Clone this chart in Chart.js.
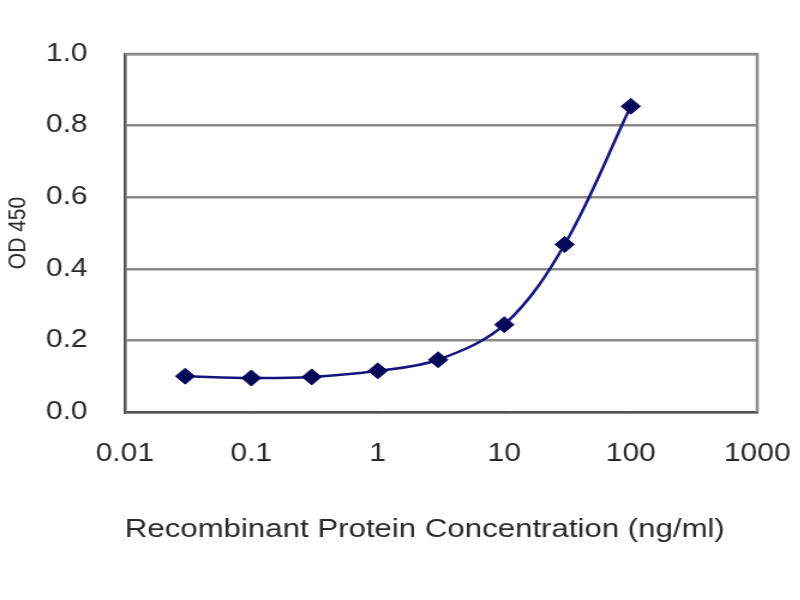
<!DOCTYPE html>
<html>
<head>
<meta charset="utf-8">
<script src="https://cdn.jsdelivr.net/npm/chart.js@4.4.1/dist/chart.umd.min.js"></script>
<style>
  html, body { margin: 0; padding: 0; background: #fff; overflow: hidden; }
  /* the reference picture is stretched sideways, so the whole chart is too */
  #wrap { width: 667px; height: 600px; transform: scaleX(1.2); transform-origin: 0 0; }
  #chart { display: block; }
</style>
</head>
<body>
<div id="wrap"><canvas id="chart"></canvas></div>
<script>
// Concentration (ng/ml) and measured OD 450
const concentrations = [0.03, 0.1, 0.3, 1, 3, 10, 30, 100];
const odValues = [0.100, 0.095, 0.098, 0.115, 0.146, 0.244, 0.468, 0.854];
const xTicks = [0.01, 0.1, 1, 10, 100, 1000];
const yTicks = [0, 0.2, 0.4, 0.6, 0.8, 1.0];

const points = concentrations.map((c, i) => ({ x: c, y: odValues[i] }));

// Grey frame on the top and right of the plot area
const frame = {
    id: 'frame',
    afterDraw(chart) {
        const { ctx, chartArea: a } = chart;
        ctx.save();
        ctx.strokeStyle = '#8a8a8a';
        ctx.lineWidth = 2.5;
        ctx.beginPath();
        ctx.moveTo(a.left, a.top);
        ctx.lineTo(a.right, a.top);
        ctx.lineTo(a.right, a.bottom);
        ctx.stroke();
        ctx.restore();
    }
};

const tickFont = { family: 'Liberation Sans', size: 25 };

const ctx = document.getElementById('chart').getContext('2d');
new Chart(ctx, {
    type: 'scatter',
    data: {
        datasets: [{
            data: points,
            showLine: true,
            borderColor: '#14147e',
            borderWidth: 2.5,
            tension: 0.35,
            pointStyle: 'rectRot',
            pointRadius: 8,
            pointBackgroundColor: '#08085a',
            pointBorderColor: '#08085a',
            pointBorderWidth: 1
        }]
    },
    options: {
        responsive: true,
        maintainAspectRatio: false,
        animation: false,
        layout: { padding: { top: 54, right: 36, bottom: 55, left: 3 } },
        plugins: { legend: { display: false }, tooltip: { enabled: false } },
        scales: {
            x: {
                type: 'logarithmic',
                min: 0.01,
                max: 1000,
                afterBuildTicks: scale => { scale.ticks = xTicks.map(v => ({ value: v })); },
                afterFit: scale => {
                    scale.height = 133;
                    scale.paddingLeft = 0;
                    scale.paddingRight = 0;
                },
                border: { color: '#555', width: 2.5 },
                grid: { drawOnChartArea: false, color: '#555', tickLength: 0 },
                ticks: {
                    color: '#2a2a2a',
                    padding: 27,
                    maxRotation: 0,
                    font: tickFont,
                    callback: v => String(v)
                },
                title: {
                    display: true,
                    align: 'start',
                    text: 'Recombinant Protein Concentration (ng/ml)',
                    color: '#2a2a2a',
                    font: { family: 'Liberation Sans', size: 26 },
                    padding: 0
                }
            },
            y: {
                min: 0,
                max: 1,
                afterBuildTicks: scale => { scale.ticks = yTicks.map(v => ({ value: v })); },
                afterFit: scale => { scale.width = 101; },
                border: { color: '#555', width: 2.5 },
                grid: { color: '#8a8a8a', lineWidth: 2.5, tickLength: 0 },
                ticks: {
                    color: '#2a2a2a',
                    padding: 31,
                    font: tickFont,
                    callback: v => v.toFixed(1)
                },
                title: {
                    display: true,
                    text: 'OD 450',
                    color: '#2a2a2a',
                    font: { family: 'Liberation Sans', size: 21 },
                    padding: 0
                }
            }
        }
    },
    plugins: [frame]
});
</script>
</body>
</html>
